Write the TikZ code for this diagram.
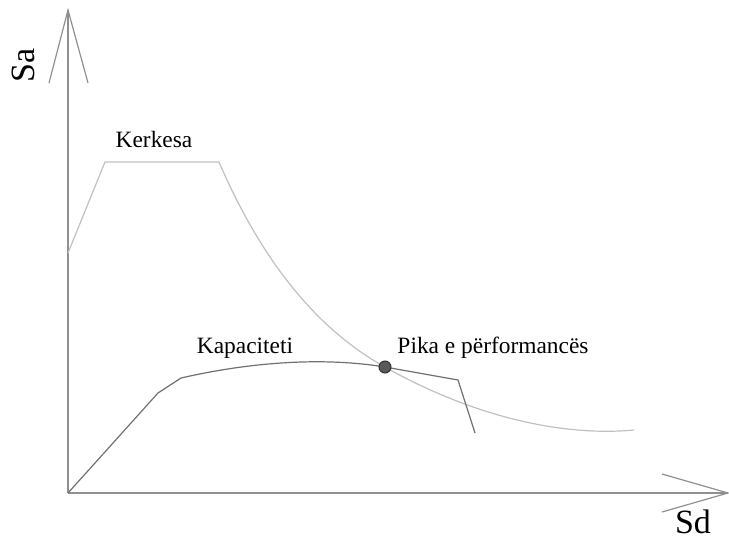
\documentclass[tikz,border=0pt]{standalone}
\usepackage{fontspec}
\setmainfont{Liberation Serif}
\usepackage{tikz}
\definecolor{axisgray}{HTML}{909090}
\definecolor{demandgray}{HTML}{C0C0C0}
\definecolor{capgray}{HTML}{707070}
\tikzset{axis line/.style={draw=axisgray, line width=0.6pt},
    demand/.style={draw=demandgray, line width=0.6pt},
    capacity/.style={draw=capgray, line width=0.6pt},
    curve label/.style={font=\fontsize{11.7}{14}\selectfont},
    axis label/.style={font=\fontsize{17}{20}\selectfont, inner sep=0pt},
    perf point/.style={circle, draw=black!80, fill=black!65, line width=0.5pt,
        inner sep=0pt, minimum size=6pt}}

\begin{document}
\begin{tikzpicture}[x=0.5pt, y=-0.5pt]
    \useasboundingbox (0,0) rectangle (729,542);
    % axes
    \coordinate (O) at (68,493);
    \coordinate (ytip) at (68,10);
    \coordinate (xtip) at (728,493);
    \draw[axis line] (O) -- (ytip);
    \draw[axis line] (O) -- (xtip);
    \draw[axis line] (49,83) -- (ytip) -- (88,83);
    \draw[axis line] (662,474) -- (xtip) -- (662,512);
    \node[axis label, rotate=90] (sa) at (23,65) {Sa};
    \node[axis label] (sd) at (693,522) {Sd};
    % demand spectrum
    \draw[demand] (68,253) -- (105,162) -- (219,162)
        .. controls (262,262) and (318,330) .. (385,367)
        .. controls (470,415) and (560,437) .. (634,430);
    % capacity curve
    \draw[capacity] (O) -- (158,393) -- (181,378)
        .. controls (260,360) and (330,358) .. (385,367)
        -- (458,380) -- (475,433);
    \node[perf point] (pp) at (385,367) {};
    % labels
    \node[curve label] (kerkesa) at (154,139) {Kerkesa};
    \node[curve label] (kapaciteti) at (245,348) {Kapaciteti};
    \node[curve label] (pika) at (493,348) {Pika e përformancës};
\end{tikzpicture}
\end{document}
